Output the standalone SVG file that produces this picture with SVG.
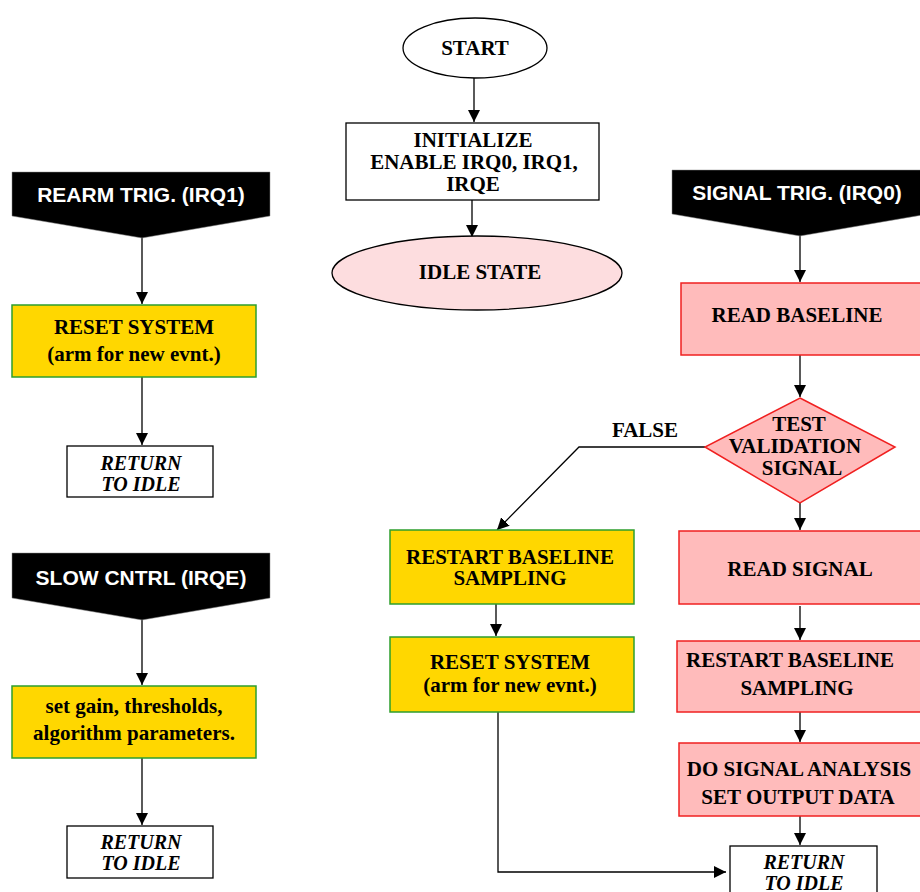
<svg xmlns="http://www.w3.org/2000/svg" width="920" height="892" viewBox="0 0 920 892">
<style>
.t{font-family:"Liberation Serif","Times New Roman",serif;font-weight:bold;font-size:21px;fill:#000;text-anchor:middle}
.s{font-size:20px}
.i{font-family:"Liberation Serif","Times New Roman",serif;font-weight:bold;font-style:italic;font-size:20px;fill:#000;text-anchor:middle}
.b{font-family:"Liberation Sans",Arial,sans-serif;font-weight:bold;font-size:21px;fill:#fff;text-anchor:middle}
.ban{fill:#000;stroke:#888;stroke-width:0.5}
.y{fill:#FFD700;stroke:#2e9e2e;stroke-width:1.5}
.p{fill:#FFBBBB;stroke:#f02020;stroke-width:1.5}
.w{fill:#fff;stroke:#000;stroke-width:1.3}
.c{fill:none;stroke:#000;stroke-width:1.3}
</style>
<defs>
<marker id="ah" viewBox="0 0 12 12" refX="12" refY="6" markerWidth="12" markerHeight="12" markerUnits="userSpaceOnUse" orient="auto">
<path d="M0,0 L12,6 L0,12 Z" fill="#000"/>
</marker>
</defs>

<g id="connectors">
<path class="c" d="M474,78 L474,122" marker-end="url(#ah)"/>
<path class="c" d="M472,200 L472,237" marker-end="url(#ah)"/>
<path class="c" d="M142,238 L142,304" marker-end="url(#ah)"/>
<path class="c" d="M142,377 L142,445" marker-end="url(#ah)"/>
<path class="c" d="M142,620 L142,685" marker-end="url(#ah)"/>
<path class="c" d="M142,758 L142,825" marker-end="url(#ah)"/>
<path class="c" d="M800,236 L800,282" marker-end="url(#ah)"/>
<path class="c" d="M800,355 L800,397" marker-end="url(#ah)"/>
<path class="c" d="M800,503 L800,530" marker-end="url(#ah)"/>
<path class="c" d="M705,447 L579,447 L497,530" marker-end="url(#ah)"/>
<path class="c" d="M496,604 L496,636" marker-end="url(#ah)"/>
<path class="c" d="M800,606 L800,640" marker-end="url(#ah)"/>
<path class="c" d="M800,712 L800,742" marker-end="url(#ah)"/>
<path class="c" d="M800,816 L800,845" marker-end="url(#ah)"/>
<path class="c" d="M498,712 L498,872 L726,872" marker-end="url(#ah)"/>
<text class="t" x="645" y="437">FALSE</text>
</g>

<g id="start">
<ellipse class="w" cx="475" cy="48" rx="72" ry="30"/>
<text class="t" x="475" y="55">START</text>
</g>

<g id="initialize">
<rect class="w" x="346" y="123" width="253" height="77"/>
<text class="t" x="473" y="147">INITIALIZE</text>
<text class="t" x="474" y="169">ENABLE IRQ0, IRQ1,</text>
<text class="t" x="473" y="191">IRQE</text>
</g>

<g id="idle">
<ellipse cx="477" cy="273" rx="145" ry="37" fill="#FDDDDF" stroke="#000" stroke-width="1.3"/>
<text class="t" x="480" y="279">IDLE STATE</text>
</g>

<g id="rearm">
<path class="ban" d="M12,172 L270,172 L270,216 L142,238 L12,216 Z"/>
<text class="b" x="141" y="202">REARM TRIG. (IRQ1)</text>
</g>

<g id="reset1">
<rect class="y" x="12" y="305" width="244" height="72"/>
<text class="t" x="134" y="334">RESET SYSTEM</text>
<text class="t" x="134" y="361">(arm for new evnt.)</text>
</g>

<g id="return1">
<rect class="w" x="67" y="446" width="146" height="51"/>
<text class="i" x="141" y="470">RETURN</text>
<text class="i" x="141" y="491">TO IDLE</text>
</g>

<g id="slow">
<path class="ban" d="M12,553 L270,553 L270,598 L142,620 L12,598 Z"/>
<text class="b" x="141" y="585">SLOW CNTRL (IRQE)</text>
</g>

<g id="setgain">
<rect class="y" x="12" y="686" width="244" height="72"/>
<text class="t" x="134" y="713">set gain, thresholds,</text>
<text class="t" x="134" y="740">algorithm parameters.</text>
</g>

<g id="return2">
<rect class="w" x="67" y="826" width="146" height="52"/>
<text class="i" x="141" y="849">RETURN</text>
<text class="i" x="141" y="870">TO IDLE</text>
</g>

<g id="signaltrig">
<path class="ban" d="M672,170 L928,170 L928,214 L800,236 L672,214 Z"/>
<text class="b" x="797" y="200">SIGNAL TRIG. (IRQ0)</text>
</g>

<g id="readbaseline">
<rect class="p" x="681" y="283" width="250" height="72"/>
<text class="t" x="797" y="322">READ BASELINE</text>
</g>

<g id="test">
<path class="p" d="M800,398 L895,447 L800,503 L705,447 Z"/>
<text class="t" x="799" y="431">TEST</text>
<text class="t" x="795" y="453">VALIDATION</text>
<text class="t" x="802" y="475">SIGNAL</text>
</g>

<g id="restart1">
<rect class="y" x="390" y="530" width="244" height="74"/>
<text class="t" x="510" y="564">RESTART BASELINE</text>
<text class="t" x="510" y="585">SAMPLING</text>
</g>

<g id="reset2">
<rect class="y" x="390" y="637" width="244" height="75"/>
<text class="t" x="510" y="669">RESET SYSTEM</text>
<text class="t" x="510" y="692">(arm for new evnt.)</text>
</g>

<g id="readsignal">
<rect class="p" x="679" y="531" width="252" height="73"/>
<text class="t" x="800" y="576">READ SIGNAL</text>
</g>

<g id="restart2">
<rect class="p" x="677" y="641" width="254" height="71"/>
<text class="t" x="790" y="667">RESTART BASELINE</text>
<text class="t" x="797" y="695">SAMPLING</text>
</g>

<g id="analysis">
<rect class="p" x="679" y="743" width="252" height="73"/>
<text class="t" x="799" y="776">DO SIGNAL ANALYSIS</text>
<text class="t" x="798" y="804">SET OUTPUT DATA</text>
</g>

<g id="return3">
<rect class="w" x="730" y="846" width="147" height="52"/>
<text class="i" x="804" y="869">RETURN</text>
<text class="i" x="804" y="890">TO IDLE</text>
</g>
</svg>
